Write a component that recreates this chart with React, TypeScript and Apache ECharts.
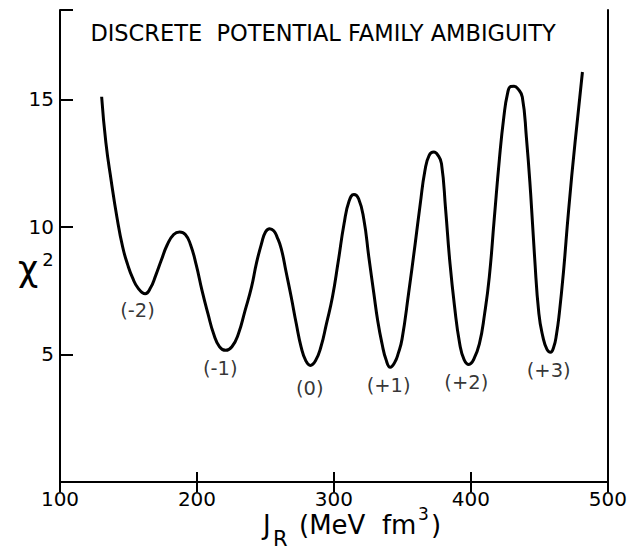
import React, { useEffect, useRef } from "react";
import * as echarts from "echarts";

// Axis ticks
const xTickValues = [100, 200, 300, 400, 500];
const yTickLabels = [5, 10, 15];

// Curve: J_R (MeV fm^3) vs chi^2
const jR = [
  130.4, 133.5, 137.4, 141.5, 145.8, 149.5, 153, 157, 162.2, 166, 169.9, 174, 178.3, 183, 187.3,
  191.5, 195.3, 199.5, 203.7, 208, 212.2, 216.5, 221, 225.5, 230.2, 235, 239.8, 243.5, 247.1, 250,
  253.1, 256, 258.5, 261.5, 265, 268.8, 272.5, 276, 279.5, 282.8, 286.5, 290.5, 294.5, 298.9, 303, 307.4,
  311, 314.6, 318, 321.8, 325.5, 329.1, 332, 335.1, 338, 341.1, 344.5, 347, 349.7, 354.5, 359.2, 363,
  366.4, 369.5, 372.9, 376, 378.5, 381.5, 384.5, 388, 391.8, 395, 398.5, 402, 406.2, 410, 413.4,
  417, 420.7, 424, 426.7, 429, 431.5, 434.5, 437.5, 440.5, 443.6, 446.5, 449.6, 452.5, 455.5, 458.1,
  460.5, 462.5, 464.5, 467.5, 471.3, 476, 481.4,
];
const chi2 = [
  15.1, 13.3, 11.8, 10.4, 9.2, 8.5, 8.0, 7.6, 7.38, 7.6, 8.1, 8.7, 9.3, 9.7, 9.8,
  9.7, 9.3, 8.5, 7.5, 6.6, 5.8, 5.3, 5.16, 5.3, 5.8, 6.7, 7.64, 8.6, 9.34, 9.8,
  9.93, 9.85, 9.6, 9.15, 8.25, 7.25, 6.2, 5.3, 4.75, 4.57, 4.75, 5.3, 6.2, 7.25, 8.6, 10.13,
  11.0, 11.27, 11.1, 10.3, 8.8, 7.4, 6.3, 5.42, 4.8, 4.5, 4.7, 5.05, 5.6, 7.4, 9.3, 10.9,
  12.2, 12.8, 12.93, 12.8, 12.48, 10.7, 8.69, 6.9, 5.42, 4.8, 4.61, 4.8, 5.42, 6.6, 8.03,
  10.3, 12.61, 14.3, 15.22, 15.5, 15.51, 15.4, 15.09, 13.5, 11.3, 8.8, 6.6, 5.7, 5.2, 5.09,
  5.3, 5.8, 6.6, 8.2, 10.65, 13.3, 16.07,
];

// Minima labels
const minimaNames = ["(-2)", "(-1)", "(0)", "(+1)", "(+2)", "(+3)"];
const minimaLabelX = [156.6, 217.0, 282.3, 339.9, 396.6, 456.8];
const minimaLabelY = [6.73, 4.44, 3.67, 3.78, 3.91, 4.37];

const titleText = "DISCRETE  POTENTIAL FAMILY AMBIGUITY";

const FONT = "DejaVu Sans";

export default function App() {
  const ref = useRef<HTMLDivElement>(null);
  useEffect(() => {
    const chart = echarts.init(ref.current!, null, { renderer: "svg" });
    const black = "#000";
    const lineData = jR.map((x, i) => [x, chi2[i]]);
    const labelData = minimaNames.map((n, i) => ({ name: n, value: [minimaLabelX[i], minimaLabelY[i]] }));
    const txt = (text: string, x: number, y: number, size: number, align = "left") => ({
      type: "text",
      x,
      y,
      style: { text, fontSize: size, fontFamily: FONT, fill: black, align, verticalAlign: "middle" },
    });
    chart.setOption({
      animation: false,
      backgroundColor: "#fff",
      grid: { left: 60, right: 17, top: 10, bottom: 69, containLabel: false },
      xAxis: [
        {
          type: "value",
          min: xTickValues[0],
          max: xTickValues[xTickValues.length - 1],
          interval: 100,
          position: "bottom",
          axisLine: { show: true, lineStyle: { color: black, width: 2 } },
          axisTick: { show: true, inside: true, length: 10, lineStyle: { color: black, width: 2 } },
          axisLabel: { color: black, fontSize: 20, fontFamily: FONT, margin: 7 },
          splitLine: { show: false },
        },
        {
          type: "value",
          min: xTickValues[0],
          max: xTickValues[xTickValues.length - 1],
          interval: 100,
          position: "top",
          axisLine: { show: true, lineStyle: { color: black, width: 2 } },
          axisTick: { show: true, inside: true, length: 10, lineStyle: { color: black, width: 2 } },
          axisLabel: { show: false },
          splitLine: { show: false },
        },
      ],
      yAxis: [
        {
          type: "value",
          min: 0,
          max: 18.5,
          interval: 5,
          position: "left",
          axisLine: { show: true, lineStyle: { color: black, width: 2 } },
          axisTick: { show: true, inside: true, length: 13, lineStyle: { color: black, width: 2 } },
          axisLabel: {
            color: black,
            fontSize: 20,
            fontFamily: FONT,
            margin: 6,
            formatter: (v: number) => (yTickLabels.includes(v) ? String(v) : ""),
          },
          splitLine: { show: false },
        },
        {
          type: "value",
          min: 0,
          max: 18.5,
          interval: 5,
          position: "right",
          axisLine: { show: true, lineStyle: { color: black, width: 2 } },
          axisTick: { show: false },
          axisLabel: { show: false },
          splitLine: { show: false },
        },
      ],
      series: [
        {
          type: "line",
          data: lineData,
          xAxisIndex: 0,
          yAxisIndex: 0,
          showSymbol: false,
          symbol: "none",
          smooth: 0.5,
          lineStyle: { color: black, width: 3 },
        },
        {
          type: "scatter",
          data: labelData,
          xAxisIndex: 0,
          yAxisIndex: 0,
          symbolSize: 0,
          label: {
            show: true,
            position: "inside",
            formatter: (p: any) => p.name,
            color: black,
            fontSize: 19.5,
            fontFamily: FONT,
          },
        },
      ],
      graphic: [
        txt(titleText, 323, 33, 22.5, "center"),
        txt("χ", 28, 269, 35, "center"),
        txt("2", 48, 259, 18, "center"),
        txt("J", 263, 525, 26),
        txt("R", 273, 539, 21),
        txt("(MeV  fm", 299, 525, 26),
        txt("3", 418, 514, 17),
        txt(")", 431, 525, 26),
      ],
    });
    return () => chart.dispose();
  }, []);
  return <div ref={ref} style={{ position: "absolute", left: 0, top: 0, width: 630, height: 551 }} />;
}
